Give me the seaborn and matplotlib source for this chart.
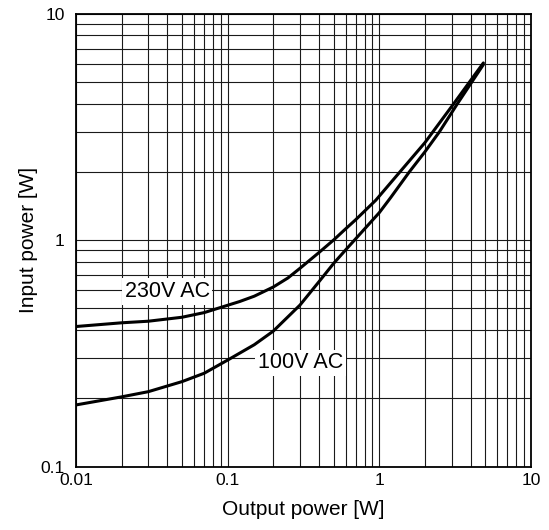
import matplotlib
matplotlib.use("Agg")
import matplotlib.pyplot as plt
import seaborn as sns
import pandas as pd
from matplotlib.ticker import FixedLocator, FixedFormatter, LogLocator, NullFormatter

# ---- data ----
out_230 = [0.01, 0.02, 0.03, 0.05, 0.07, 0.1, 0.12, 0.15, 0.2, 0.25, 0.3, 0.4, 0.5, 0.6, 0.7, 0.95, 1.37, 2.0, 3.1, 4.86]
in_230 = [0.415, 0.431, 0.438, 0.456, 0.478, 0.515, 0.535, 0.565, 0.62, 0.68, 0.75, 0.88, 1.0, 1.12, 1.23, 1.5, 2.0, 2.69, 4.0, 6.05]

out_100 = [0.01, 0.02, 0.03, 0.05, 0.07, 0.1, 0.15, 0.2, 0.3, 0.4, 0.5, 0.6, 1.0, 1.19, 1.58, 2.0, 2.49, 3.28, 4.86]
in_100 = [0.187, 0.203, 0.214, 0.237, 0.258, 0.295, 0.345, 0.396, 0.516, 0.654, 0.788, 0.904, 1.32, 1.54, 2.0, 2.45, 3.0, 4.0, 5.95]

series_names = ["230V AC", "100V AC"]
label_pos_x = [0.040, 0.303]
label_pos_y = [0.592, 0.287]

x_ticks = [0.01, 0.1, 1, 10]
x_tick_labels = ["0.01", "0.1", "1", "10"]
y_ticks = [0.1, 1, 10]
y_tick_labels = ["0.1", "1", "10"]

x_label = "Output power [W]"
y_label = "Input power [W]"

# ---- build table ----
df = pd.concat([
    pd.DataFrame({"out": out_230, "inp": in_230, "series": series_names[0]}),
    pd.DataFrame({"out": out_100, "inp": in_100, "series": series_names[1]}),
], ignore_index=True)

sns.set_theme(style="white")
plt.rcParams['font.family'] = ['Liberation Sans', 'DejaVu Sans']

fig = plt.figure(figsize=(5.49, 5.30), dpi=100)
ax = fig.add_axes([0.1384, 0.1198, 0.8286, 0.8547])

sns.lineplot(data=df, x="out", y="inp", hue="series", units="series",
             palette=["black", "black"], estimator=None, sort=False,
             legend=False, linewidth=2.2, ax=ax, zorder=4)

ax.set_xscale("log")
ax.set_yscale("log")
ax.set_xlim(0.01, 10)
ax.set_ylim(0.1, 10)

ax.xaxis.set_major_locator(FixedLocator(x_ticks))
ax.xaxis.set_major_formatter(FixedFormatter(x_tick_labels))
ax.yaxis.set_major_locator(FixedLocator(y_ticks))
ax.yaxis.set_major_formatter(FixedFormatter(y_tick_labels))
ax.xaxis.set_minor_locator(LogLocator(base=10, subs=range(2, 10)))
ax.yaxis.set_minor_locator(LogLocator(base=10, subs=range(2, 10)))
ax.xaxis.set_minor_formatter(NullFormatter())
ax.yaxis.set_minor_formatter(NullFormatter())

ax.set_axisbelow(True)
ax.grid(True, which="both", color="#1a1a1a", linewidth=0.8)
ax.tick_params(which="both", length=0, labelsize=12.6, colors="black")
ax.tick_params(axis="x", pad=5)
ax.tick_params(axis="y", pad=8)

for s in ax.spines.values():
    s.set_color("black")
    s.set_linewidth(1.3)
    s.set_visible(True)

ax.set_xlabel(x_label, fontsize=15, labelpad=8, color="black")
ax.set_ylabel(y_label, fontsize=15, labelpad=2, color="black")

for name, lx, ly in zip(series_names, label_pos_x, label_pos_y):
    ax.text(lx, ly, name, ha="center", va="center", fontsize=15.5, color="black",
            bbox=dict(boxstyle="square,pad=0.12", fc="white", ec="none"), zorder=3)

fig.savefig("out.png", dpi=100)
